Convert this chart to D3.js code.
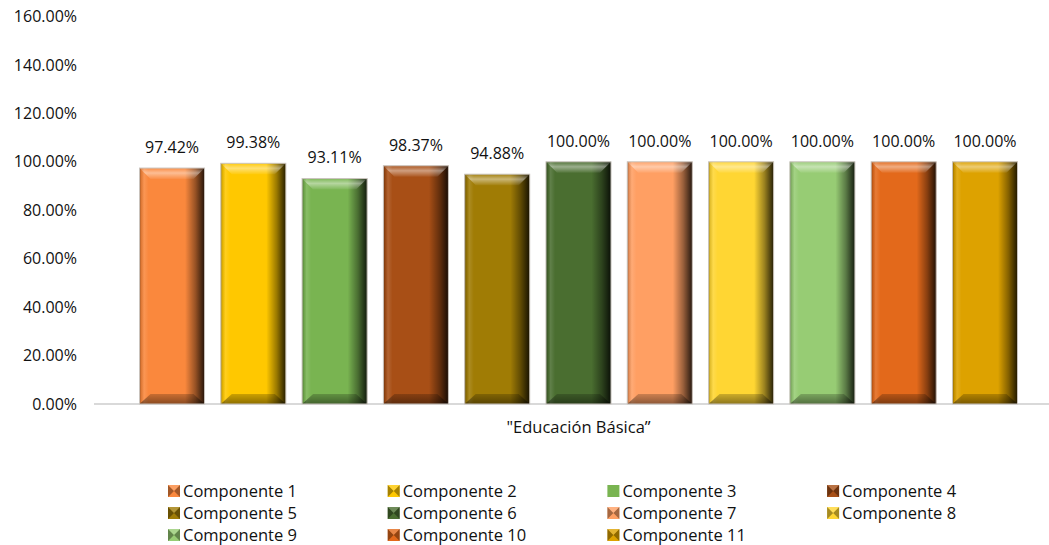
<!DOCTYPE html>
<html><head><meta charset="utf-8">
<script src="https://cdn.jsdelivr.net/npm/d3@7"></script>
<style>body{margin:0;background:#fff;overflow:hidden}</style>
</head><body><svg id="c" width="1049" height="545"></svg>
<script>
const categories = ["Componente 1","Componente 2","Componente 3","Componente 4","Componente 5","Componente 6","Componente 7","Componente 8","Componente 9","Componente 10","Componente 11"];
const values = [97.42, 99.38, 93.11, 98.37, 94.88, 100.00, 100.00, 100.00, 100.00, 100.00, 100.00];
const colors = ["#FA883D","#FFC800","#79B451","#A84F16","#A07C05","#4A6E30","#FF9F63","#FFD633","#97CC74","#E3691B","#DDA200"];
const yTicks = [0,20,40,60,80,100,120,140,160];
const groupLabel = "\"Educación Básica”";

const FONT = "'Open Sans', sans-serif";
const svg = d3.select("#c");
const defs = svg.append("defs");

const x = d3.scaleBand().domain(categories).range([139.5, 1017.5]).paddingInner(0.2).paddingOuter(0);
const y = d3.scaleLinear().domain([0,160]).range([404, 16.5]);

// shading gradients
const hg = defs.append("linearGradient").attr("id","hshade").attr("x1","0").attr("x2","1").attr("y1","0").attr("y2","0");
[[0,"#000",0.35],[0.03,"#000",0.1],[0.07,"#fff",0.12],[0.14,"#fff",0.0],[0.70,"#000",0.0],[0.86,"#000",0.4],[1,"#000",0.85]]
  .forEach(s=>hg.append("stop").attr("offset",s[0]).attr("stop-color",s[1]).attr("stop-opacity",s[2]));
const tg = defs.append("linearGradient").attr("id","topbev").attr("x1","0").attr("x2","0").attr("y1","0").attr("y2","1");
[[0,"#fff",0.05],[0.45,"#fff",0.45],[1,"#fff",0.05]]
  .forEach(s=>tg.append("stop").attr("offset",s[0]).attr("stop-color",s[1]).attr("stop-opacity",s[2]));
const bg = defs.append("linearGradient").attr("id","botbev").attr("x1","0").attr("x2","0").attr("y1","0").attr("y2","1");
[[0,"#000",0.2],[1,"#000",0.45]]
  .forEach(s=>bg.append("stop").attr("offset",s[0]).attr("stop-color",s[1]).attr("stop-opacity",s[2]));

// y axis
const yAxis = d3.axisLeft(y).tickValues(yTicks).tickSize(0).tickPadding(0).tickFormat(d=>d.toFixed(2)+"%");
const ga = svg.append("g").attr("transform","translate(77,0)").call(yAxis);
ga.select(".domain").remove();
ga.selectAll("text").attr("font-family",FONT).attr("font-size","16px").attr("fill","#111");

// baseline
svg.append("line").attr("x1",94).attr("x2",1049).attr("y1",y(0)).attr("y2",y(0)).attr("stroke","#d9d9d9").attr("stroke-width",2);

const data = categories.map((c,i)=>({c, v:values[i], col:colors[i]}));
const bw = x.bandwidth();
const bars = svg.append("g").selectAll("g").data(data).join("g");
bars.append("rect").attr("x",d=>x(d.c)).attr("y",d=>y(d.v)).attr("width",bw).attr("height",d=>y(0)-y(d.v)).attr("fill",d=>d.col);
bars.append("rect").attr("x",d=>x(d.c)).attr("y",d=>y(d.v)).attr("width",bw).attr("height",d=>y(0)-y(d.v)).attr("fill","url(#hshade)");
const bev = 11, bh = 11, bbh = 10;
bars.append("polygon").attr("points",d=>{const x0=x(d.c), y0=y(d.v);return [[x0,y0],[x0+bw,y0],[x0+bw-bev,y0+bh],[x0+bev,y0+bh]].join(" ");}).attr("fill","url(#topbev)");
bars.append("polygon").attr("points",d=>{const x0=x(d.c), y0=y(0);return [[x0,y0],[x0+bw,y0],[x0+bw-bev,y0-bbh],[x0+bev,y0-bbh]].join(" ");}).attr("fill","url(#botbev)");
bars.append("rect").attr("x",d=>x(d.c)).attr("y",d=>y(d.v)).attr("width",bw).attr("height",d=>y(0)-y(d.v)).attr("fill","none").attr("stroke","#c9c3bd").attr("stroke-width",1);
bars.append("text").attr("x",d=>x(d.c)+bw/2).attr("y",d=>y(d.v)-15).attr("text-anchor","middle")
  .attr("font-family",FONT).attr("font-size","16px").attr("fill","#111").text(d=>d.v.toFixed(2)+"%");

// category label
svg.append("text").attr("x",(x.range()[0]+x.range()[1])/2).attr("y",433).attr("text-anchor","middle")
  .attr("font-family",FONT).attr("font-size","16.5px").attr("fill","#111").text(groupLabel);

// legend
const lg = svg.append("g").selectAll("g").data(data).join("g")
  .attr("transform",(d,i)=>`translate(${168+(i%4)*219.7},${491+Math.floor(i/4)*22})`);
lg.append("rect").attr("x",0).attr("y",-6).attr("width",12).attr("height",12).attr("fill",d=>d.col);
lg.filter((d,i)=>i!==2).append("path").attr("d","M0,-6 L6,0 L0,6 Z M12,-6 L6,0 L12,6 Z").attr("fill","#000").attr("fill-opacity",0.35);
lg.filter((d,i)=>i!==2).append("path").attr("d","M0,-6 L12,-6 L6,0 Z").attr("fill","#fff").attr("fill-opacity",0.2);
lg.append("text").attr("x",15).attr("y",0).attr("dy","0.35em").attr("font-family",FONT).attr("font-size","16.5px").attr("fill","#111").text(d=>d.c);
</script></body></html>
